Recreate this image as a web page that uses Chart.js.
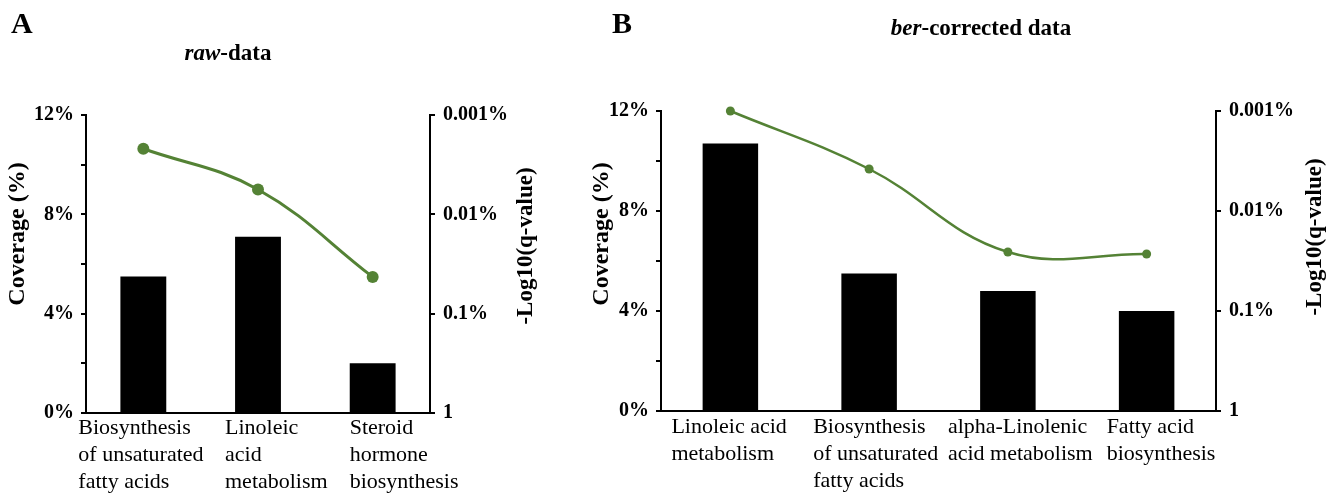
<!DOCTYPE html>
<html><head><meta charset="utf-8">
<script src="https://cdn.jsdelivr.net/npm/chart.js@4/dist/chart.umd.min.js"></script>
<style>
html,body{margin:0;padding:0;background:#fff;}
#wrap{position:relative;width:1338px;height:495px;background:#fff;}
canvas{position:absolute;left:0;top:0;}
</style>
</head><body>
<div id="wrap"><canvas id="cA" width="1338" height="495"></canvas><canvas id="cB" width="1338" height="495"></canvas></div>
<script>
// ---- data ----
const categoriesA = [["Biosynthesis","of unsaturated","fatty acids"],["Linoleic","acid","metabolism"],["Steroid","hormone","biosynthesis"]];
const coverageA = [5.5, 7.1, 2.0];
const qScoreA = [2.66, 2.25, 1.37];
const categoriesB = [["Linoleic acid","metabolism"],["Biosynthesis","of unsaturated","fatty acids"],["alpha-Linolenic","acid metabolism"],["Fatty acid","biosynthesis"]];
const coverageB = [10.7, 5.5, 4.8, 4.0];
const qScoreB = [3.0, 2.42, 1.59, 1.57];
const coverageMax = 12, coverageTickStep = 2, coverageLabelStep = 4;
const qTickLabels = ["1","0.1%","0.01%","0.001%"];

// ---- style ----
const SERIF = '"Liberation Serif", "Times New Roman", serif';
const GREEN = '#548235';

function makeText(cfg){
  return {
    id:'panelText'+cfg.letter,
    afterDraw(chart){
      const ctx = chart.ctx;
      ctx.save();
      ctx.fillStyle = '#000';
      ctx.textAlign = 'left';
      ctx.textBaseline = 'alphabetic';
      ctx.font = 'bold 30px ' + SERIF;
      ctx.fillText(cfg.letter, cfg.letterX, cfg.letterY);
      // title
      let total = 0;
      cfg.title.forEach(p => { ctx.font = p.font; total += ctx.measureText(p.text).width; });
      let x = cfg.titleX - total/2;
      cfg.title.forEach(p => { ctx.font = p.font; ctx.fillText(p.text, x, cfg.titleY); x += ctx.measureText(p.text).width; });
      // axis titles
      ctx.textAlign = 'center';
      ctx.textBaseline = 'middle';
      [[cfg.leftTitle, cfg.leftX, cfg.leftY, 24],[cfg.rightTitle, cfg.rightX, cfg.rightY, 23]].forEach(([t,tx,ty,fs]) => {
        ctx.font = 'bold ' + fs + 'px ' + SERIF;
        ctx.save(); ctx.translate(tx, ty); ctx.rotate(-Math.PI/2); ctx.fillText(t, 0, 0); ctx.restore();
      });
      // category labels
      const xs = chart.scales.x;
      ctx.font = '22px ' + SERIF;
      ctx.textAlign = 'left';
      ctx.textBaseline = 'alphabetic';
      cfg.cats.forEach((lines, i) => {
        const cx = xs.getPixelForValue(i) + cfg.catOffsets[i];
        lines.forEach((ln, j) => ctx.fillText(ln, cx, cfg.catY + j*cfg.catLineH));
      });
      ctx.restore();
    }
  };
}

function makeChart(id, cats, cov, q, L, text){
  const tickFont = {family: SERIF, size: 20, weight: 'bold'};
  return new Chart(document.getElementById(id), {
    data: {
      labels: cats.map(c => c.join(' ')),
      datasets: [
        {type:'line', data:q, yAxisID:'yR', borderColor:GREEN, backgroundColor:GREEN, borderWidth:L.lw,
         pointRadius:L.pr, pointBackgroundColor:GREEN, pointBorderWidth:0, tension:0.4, clip:false, order:0},
        {type:'bar', data:cov, yAxisID:'y', backgroundColor:'#000', categoryPercentage:1, barPercentage:0.4, order:1}
      ]
    },
    options: {
      responsive:false, animation:false, events:[],
      layout:{padding:{top:L.top, bottom:0, left:0, right:0}},
      plugins:{legend:{display:false}, tooltip:{enabled:false}},
      scales:{
        x:{
          ticks:{display:false},
          grid:{display:true, drawOnChartArea:false, drawTicks:false},
          border:{display:true, color:'#000', width:2},
          afterFit: s => { s.height = L.xh; }
        },
        y:{
          position:'left', min:0, max:coverageMax,
          ticks:{stepSize:coverageTickStep, color:'#000', font:tickFont, padding:7,
                 callback: v => (v % coverageLabelStep === 0 ? v + '%' : '')},
          grid:{drawOnChartArea:false, drawTicks:true, tickLength:5, color:'#000', lineWidth:2},
          border:{display:true, color:'#000', width:2},
          afterFit: s => { s.width = L.lw0; }
        },
        yR:{
          position:'right', min:0, max:qTickLabels.length-1,
          ticks:{stepSize:1, color:'#000', font:tickFont, padding:8,
                 callback: v => qTickLabels[v] ?? ''},
          grid:{drawOnChartArea:false, drawTicks:true, tickLength:5, color:'#000', lineWidth:2},
          border:{display:true, color:'#000', width:2},
          afterFit: s => { s.width = L.rw; }
        }
      }
    },
    plugins:[makeText(text)]
  });
}

makeChart('cA', categoriesA, coverageA, qScoreA,
  {top:115, xh:82, lw0:86, rw:1338-430, lw:3, pr:6},
  {letter:'A', letterX:11, letterY:33,
   title:[{text:'raw', font:'italic bold 23px '+SERIF},{text:'-data', font:'bold 23px '+SERIF}], titleX:228, titleY:60,
   leftTitle:'Coverage (%)', leftX:18, leftY:234,
   rightTitle:'-Log10(q-value)', rightX:526, rightY:246,
   cats:categoriesA, catOffsets:[-65,-33,-23], catY:434, catLineH:27});

makeChart('cB', categoriesB, coverageB, qScoreB,
  {top:111, xh:84, lw0:661, rw:1338-1216, lw:2.5, pr:4.5},
  {letter:'B', letterX:612, letterY:33,
   title:[{text:'ber', font:'italic bold 23px '+SERIF},{text:'-corrected data', font:'bold 23px '+SERIF}], titleX:981, titleY:35,
   leftTitle:'Coverage (%)', leftX:602, leftY:234,
   rightTitle:'-Log10(q-value)', rightX:1315, rightY:237,
   cats:categoriesB, catOffsets:[-59,-56,-60,-40], catY:433, catLineH:27});
</script>
</body></html>
